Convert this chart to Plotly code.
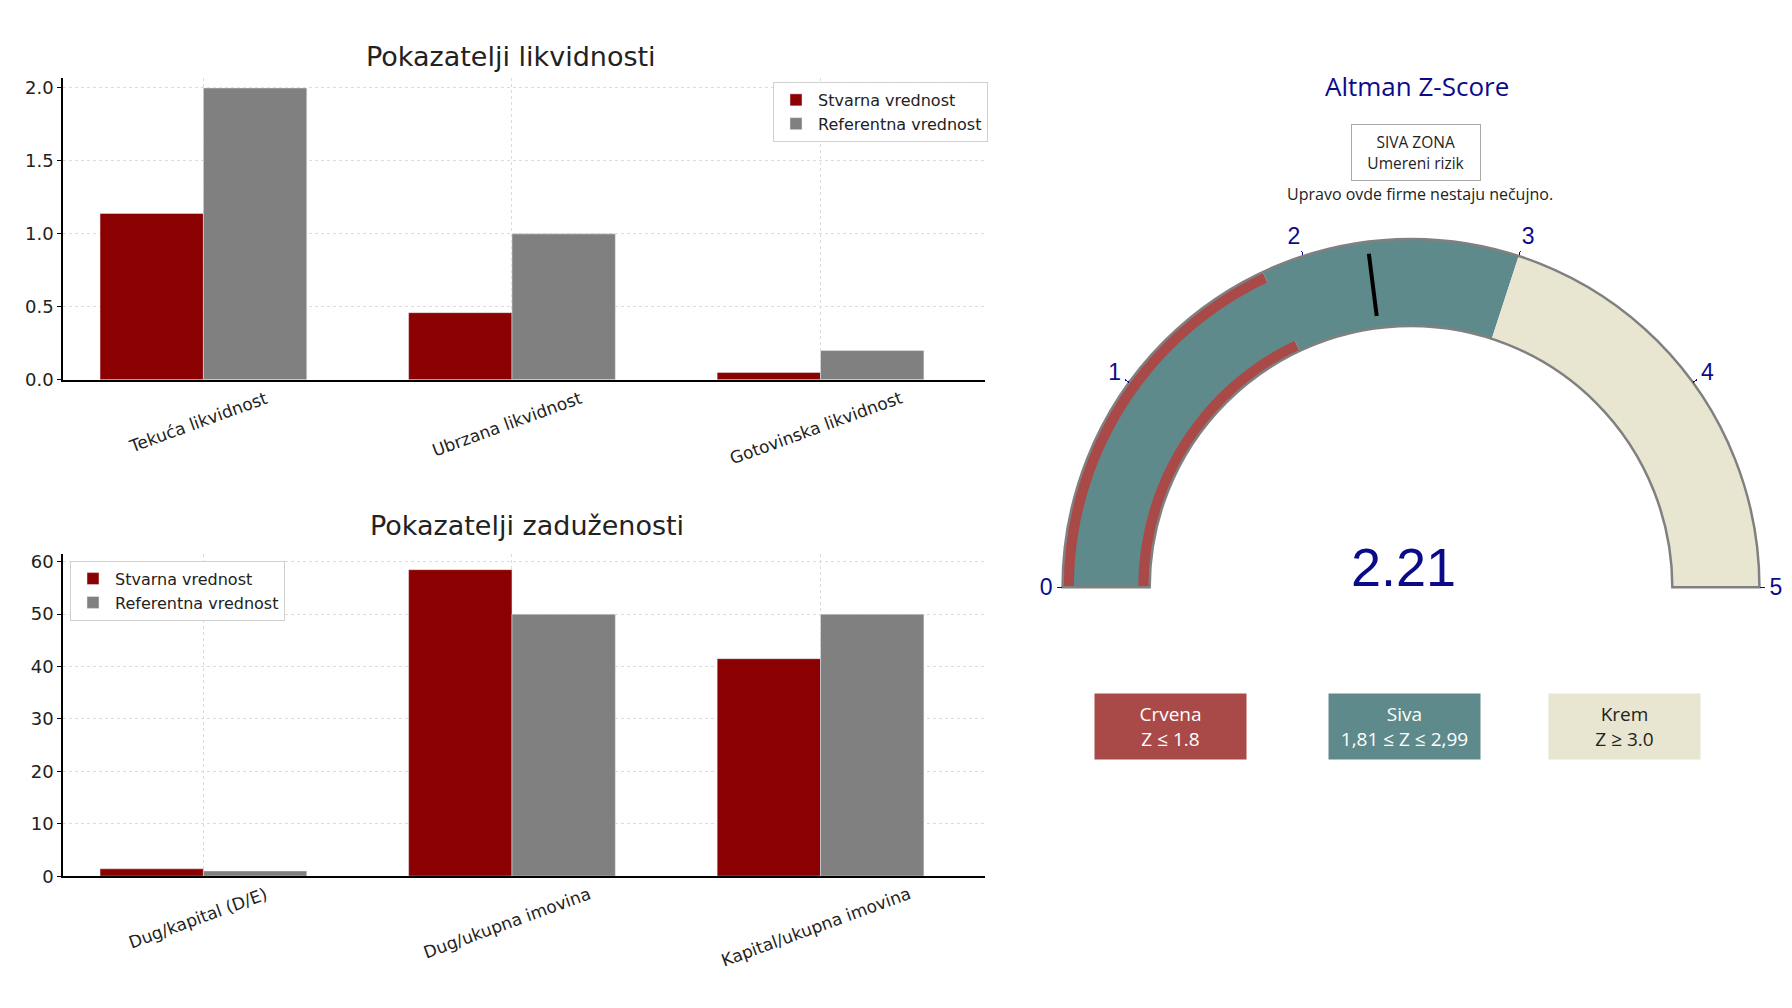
import plotly.graph_objects as go

# ---------------- data ----------------
liq_categories = ["Tekuća likvidnost", "Ubrzana likvidnost", "Gotovinska likvidnost"]
liq_actual = [1.14, 0.46, 0.05]
liq_reference = [2.0, 1.0, 0.2]
liq_ticks = [0.0, 0.5, 1.0, 1.5, 2.0]

debt_categories = ["Dug/kapital (D/E)", "Dug/ukupna imovina", "Kapital/ukupna imovina"]
debt_actual = [1.41, 58.5, 41.5]
debt_reference = [1.0, 50, 50]
debt_ticks = [0, 10, 20, 30, 40, 50, 60]

series_names = ["Stvarna vrednost", "Referentna vrednost"]
chart_titles = ["Pokazatelji likvidnosti", "Pokazatelji zaduženosti"]

gauge_title = "Altman Z-Score"
z_score = 2.21
z_marker = 2.3
gauge_range = [0, 5]
gauge_ticks = [0, 1, 2, 3, 4, 5]
zone_bounds = [0, 1.8, 3, 5]
zone_labels = ["Crvena<br>Z ≤ 1.8", "Siva<br>1,81 ≤ Z ≤ 2,99", "Krem<br>Z ≥ 3.0"]
zone_status = "SIVA ZONA<br>Umereni rizik"
zone_comment = "Upravo ovde firme nestaju nečujno."

# ---------------- styles ----------------
RED_BAR = "#8B0000"
GRAY_BAR = "#808080"
Z_RED = "#A94A48"
Z_TEAL = "#5F8A8B"
Z_CREAM = "#E8E6D0"
NAVY = "#0B0B8A"
TXT = "#222222"
MPL_FONT = "DejaVu Sans"
UI_FONT = "Open Sans"

W, H = 1792, 1008


def px_x(x):
    return x / W


def px_y(y):
    return (H - y) / H


fig = go.Figure()

# liquidity bars
fig.add_trace(go.Bar(x=liq_categories, y=liq_actual, name=series_names[0],
                     marker_color=RED_BAR, xaxis="x", yaxis="y", legend="legend"))
fig.add_trace(go.Bar(x=liq_categories, y=liq_reference, name=series_names[1],
                     marker_color=GRAY_BAR, xaxis="x", yaxis="y", legend="legend"))
# debt bars
fig.add_trace(go.Bar(x=debt_categories, y=debt_actual, name=series_names[0],
                     marker_color=RED_BAR, xaxis="x2", yaxis="y2", legend="legend2"))
fig.add_trace(go.Bar(x=debt_categories, y=debt_reference, name=series_names[1],
                     marker_color=GRAY_BAR, xaxis="x2", yaxis="y2", legend="legend2"))

# gauge
G_CX, G_BOTTOM, G_R = 1411, 592, 353
fig.add_trace(go.Indicator(
    mode="gauge",
    value=z_score,
    domain=dict(x=[px_x(G_CX - G_R), px_x(G_CX + G_R)], y=[px_y(G_BOTTOM), px_y(G_BOTTOM - G_R)]),
    gauge=dict(
        shape="angular",
        axis=dict(range=gauge_range, tickvals=gauge_ticks, ticks="outside", ticklen=5,
                  tickwidth=1, tickcolor=NAVY,
                  tickfont=dict(size=23, color=NAVY, family="Liberation Sans, Arial")),
        bar=dict(color=Z_TEAL, thickness=0.74),
        bgcolor="white",
        borderwidth=2.5,
        bordercolor="#808080",
        steps=[
            dict(range=[zone_bounds[0], zone_bounds[1]], color=Z_RED),
            dict(range=[zone_bounds[1], zone_bounds[2]], color=Z_TEAL),
            dict(range=[zone_bounds[2], zone_bounds[3]], color=Z_CREAM),
        ],
        threshold=dict(line=dict(color="black", width=4), thickness=0.72, value=z_marker),
    ),
))

axis_common = dict(
    showline=True, linecolor="black", linewidth=1.5, zeroline=False,
    showgrid=True, gridcolor="#dcdcdc", griddash="dot", gridwidth=1,
)

layout_axes = dict(
    xaxis=dict(domain=[px_x(63), px_x(985)], anchor="y", range=[-0.455, 2.533],
               showticklabels=False, ticks="", **axis_common),
    yaxis=dict(domain=[px_y(381.7), px_y(76)], anchor="x", range=[0, 2.068],
               tickvals=liq_ticks, tickformat=".1f", ticks="outside", ticklen=4,
               tickcolor="black", tickfont=dict(size=18, color=TXT, family=MPL_FONT),
               **axis_common),
    xaxis2=dict(domain=[px_x(63), px_x(985)], anchor="y2", range=[-0.455, 2.533],
                showticklabels=False, ticks="", **axis_common),
    yaxis2=dict(domain=[px_y(884.6), px_y(558)], anchor="x2", range=[0, 61.52],
                tickvals=debt_ticks, ticks="outside", ticklen=4,
                tickcolor="black", tickfont=dict(size=18, color=TXT, family=MPL_FONT),
                **axis_common),
)

legend_style = dict(
    bgcolor="rgba(255,255,255,0.9)", bordercolor="#d0d0d0", borderwidth=1,
    font=dict(size=16, color=TXT, family=MPL_FONT), xanchor="left", yanchor="top",
    tracegroupgap=2, itemwidth=34,
)

annotations = []


def paper_text(text, x, y, size, color=TXT, family=UI_FONT, **kw):
    d = dict(text=text, x=px_x(x), y=px_y(y), xref="paper", yref="paper",
             xanchor="center", yanchor="middle", showarrow=False,
             font=dict(size=size, color=color, family=family))
    d.update(kw)
    annotations.append(d)


# chart titles
paper_text(chart_titles[0], 511, 54, 27, family=MPL_FONT)
paper_text(chart_titles[1], 527, 529, 27, family=MPL_FONT)

# rotated category labels
for cats, xr, yr in [(liq_categories, "x", "y domain"), (debt_categories, "x2", "y2 domain")]:
    for c in cats:
        annotations.append(dict(text=c, x=c, y=0, xref=xr, yref=yr, xanchor="center",
                                yanchor="top", textangle=-20, showarrow=False, xshift=-5, yshift=-5,
                                font=dict(size=17, color=TXT, family=MPL_FONT)))

# gauge texts
paper_text(gauge_title, 1417, 84, 26, color=NAVY)
paper_text(zone_status, 1416, 151.5, 15.5, bordercolor="#aaaaaa", borderwidth=1, borderpad=2,
           bgcolor="white", width=124, height=51)
paper_text(zone_comment, 1420, 193, 16)
paper_text(f"{z_score:.2f}", 1403, 571, 54, color=NAVY, family="Liberation Sans, Arial")

zone_boxes = [(1170, Z_RED, "white"), (1404, Z_TEAL, "white"), (1624, Z_CREAM, TXT)]
for lbl, (cx, bg, fc) in zip(zone_labels, zone_boxes):
    paper_text(lbl, cx, 733, 19, color=fc, bgcolor=bg, width=149, height=63, borderpad=1)

fig.update_layout(
    width=W, height=H,
    margin=dict(l=0, r=0, t=0, b=0),
    paper_bgcolor="white", plot_bgcolor="white",
    barmode="group", bargap=0.33, bargroupgap=0,
    legend=dict(x=px_x(773), y=px_y(80), **legend_style),
    legend2=dict(x=px_x(70), y=px_y(565), **legend_style),
    annotations=annotations,
    **layout_axes,
)

fig.write_html("out.html")
